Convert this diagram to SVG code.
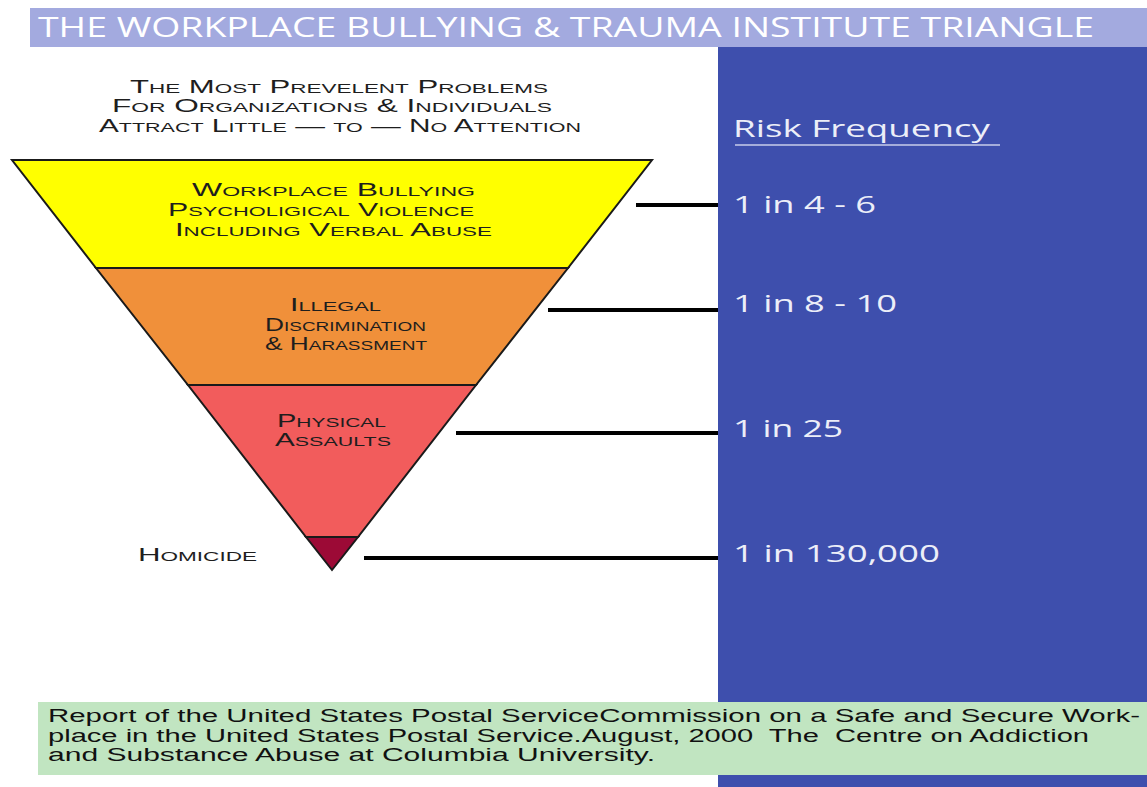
<svg xmlns="http://www.w3.org/2000/svg" width="1147" height="787" viewBox="0 0 1147 787">
<style>
.sc{font-family:"Liberation Sans",Arial,sans-serif;font-variant:small-caps;font-size:18px;fill:#1e1e1e;text-anchor:start}
.risk{font-family:"Open Sans","Liberation Sans",sans-serif;font-size:24px;fill:#eceef8}
.foot{font-family:"Liberation Sans",Arial,sans-serif;font-size:18px;fill:#111;white-space:pre}
.band{stroke:#1a1a1a;stroke-width:2;stroke-linejoin:miter}
.conn{stroke:#000;stroke-width:4;fill:none}
</style>
<rect width="1147" height="787" fill="#ffffff"/>
<g id="title">
<rect x="30" y="8" width="1117" height="39" fill="#a3aadf"/>
<text x="38" y="37" font-family="Open Sans, Liberation Sans, sans-serif" font-size="27" fill="#ffffff" textLength="1056" lengthAdjust="spacingAndGlyphs">THE WORKPLACE BULLYING &amp; TRAUMA INSTITUTE TRIANGLE</text>
</g>
<g id="risk-panel">
<rect x="718" y="47" width="429" height="740" fill="#3e4fad"/>
<text class="risk" x="733" y="137" textLength="257" lengthAdjust="spacingAndGlyphs">Risk Frequency</text>
<line x1="735" y1="145" x2="1000" y2="145" stroke="#c8cceb" stroke-width="1.5"/>
</g>
<g id="header">
<text class="sc" x="130" y="93" textLength="418" lengthAdjust="spacingAndGlyphs">The Most Prevelent Problems</text>
<text class="sc" x="112" y="112" textLength="440" lengthAdjust="spacingAndGlyphs">For Organizations &amp; Individuals</text>
<text class="sc" x="99" y="132" textLength="482" lengthAdjust="spacingAndGlyphs">Attract Little — to — No Attention</text>
</g>
<g id="band-bullying">
<polygon class="band" points="12,160 652,160 568,268 96,268" fill="#ffff00"/>
<text class="sc" x="192" y="196" textLength="283" lengthAdjust="spacingAndGlyphs">Workplace Bullying</text>
<text class="sc" x="168" y="216" textLength="306" lengthAdjust="spacingAndGlyphs">Psycholigical Violence</text>
<text class="sc" x="175" y="236" textLength="317" lengthAdjust="spacingAndGlyphs">Including Verbal Abuse</text>
</g>
<g id="band-discrimination">
<polygon class="band" points="96,268 568,268 476,385 188,385" fill="#f0903a"/>
<text class="sc" x="290" y="311" textLength="91" lengthAdjust="spacingAndGlyphs">Illegal</text>
<text class="sc" x="265" y="331" textLength="161" lengthAdjust="spacingAndGlyphs">Discrimination</text>
<text class="sc" x="265" y="350" textLength="162" lengthAdjust="spacingAndGlyphs">&amp; Harassment</text>
</g>
<g id="band-assaults">
<polygon class="band" points="188,385 476,385 358,537 306,537" fill="#f25c5c"/>
<text class="sc" x="277" y="427" textLength="109" lengthAdjust="spacingAndGlyphs">Physical</text>
<text class="sc" x="275" y="446" textLength="116" lengthAdjust="spacingAndGlyphs">Assaults</text>
</g>
<g id="band-homicide">
<polygon class="band" points="306,537 358,537 332,570" fill="#9c0a36"/>
<text class="sc" x="138" y="561" textLength="119" lengthAdjust="spacingAndGlyphs">Homicide</text>
</g>
<g id="connectors">
<line class="conn" x1="636" y1="205" x2="718" y2="205"/>
<line class="conn" x1="548" y1="310" x2="718" y2="310"/>
<line class="conn" x1="456" y1="433" x2="718" y2="433"/>
<line class="conn" x1="364" y1="558" x2="718" y2="558"/>
</g>
<g id="frequencies">
<text class="risk" x="733" y="213" textLength="143" lengthAdjust="spacingAndGlyphs">1 in 4 - 6</text>
<text class="risk" x="733" y="312" textLength="164" lengthAdjust="spacingAndGlyphs">1 in 8 - 10</text>
<text class="risk" x="733" y="437" textLength="110" lengthAdjust="spacingAndGlyphs">1 in 25</text>
<text class="risk" x="733" y="562" textLength="207" lengthAdjust="spacingAndGlyphs">1 in 130,000</text>
</g>
<g id="footer">
<rect x="38" y="702" width="1109" height="73" fill="#c1e5c1"/>
<text class="foot" x="48" y="722" textLength="1092" lengthAdjust="spacingAndGlyphs">Report of the United States Postal ServiceCommission on a Safe and Secure Work-</text>
<text class="foot" x="48" y="742" textLength="1041" lengthAdjust="spacingAndGlyphs">place in the United States Postal Service.August, 2000  The  Centre on Addiction</text>
<text class="foot" x="48" y="761" textLength="607" lengthAdjust="spacingAndGlyphs">and Substance Abuse at Columbia University.</text>
</g>
</svg>
